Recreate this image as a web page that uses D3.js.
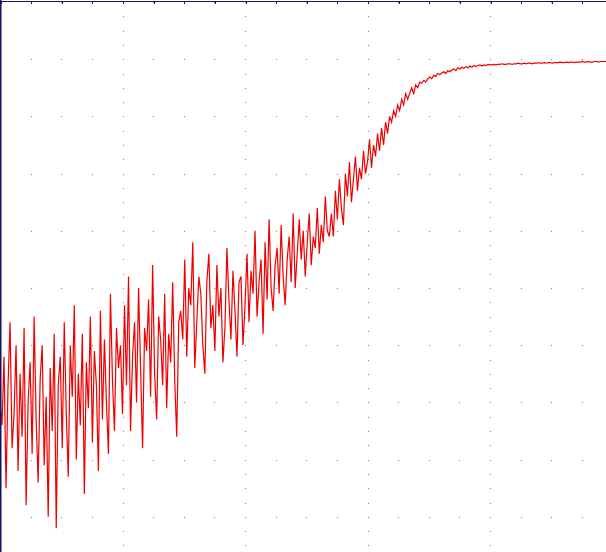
<!DOCTYPE html>
<html>
<head>
<meta charset="utf-8">
<script src="https://cdn.jsdelivr.net/npm/d3@7"></script>
<style>
    html, body { margin: 0; padding: 0; background: #ffffff; overflow: hidden; }
</style>
</head>
<body>
<div id="chart"></div>
<script>
// trace samples, 61 samples per horizontal division
const samplesPerDivision = 61;

// noisy low part
const traceStart = [30, 26, 38, 15, 33, 44, 22, 28, 40, 18, 35, 24, 43, 12, 30, 37, 21, 45, 27, 16, 34, 40, 19, 31, 10, 36, 25, 42, 8, 33,
    38, 22, 44, 28, 17, 40, 31, 47, 20, 35, 26, 42, 14, 37, 29, 45, 23, 39, 33, 18, 46, 27, 41, 30, 21, 49, 34, 25, 43, 36,
    40, 28, 47, 33, 52, 25, 38, 44, 30, 50, 36, 22, 43, 39, 48, 31, 54, 35, 27, 45, 41, 33, 49, 29, 42, 37, 51, 34, 24, 44];
// slow climb
const traceMiddle = [46, 41, 55, 38, 50, 47, 58, 36, 44, 52, 49, 40, 35, 51, 56, 43, 47, 39, 54, 45, 50, 37, 43, 57, 48, 41, 53, 46, 38, 51,
    52, 40, 47, 56, 44, 53, 49, 60, 45, 51, 55, 42, 58, 48, 62, 50, 46, 54, 57, 49, 61, 52, 47, 55, 59, 51, 63, 50, 56, 62,
    55, 60, 52, 58, 63, 54, 59, 57, 64, 56, 61, 58, 66, 60, 59];
// steep rise
const traceRise = [63, 59, 67, 62, 69, 64, 61, 70, 66, 72, 65, 69, 73, 67, 71,
    69, 74, 70, 72, 76, 71, 75, 73, 77, 74, 78, 75, 79, 77, 80,
    79, 81, 80, 82, 81, 83, 82, 84, 83, 84, 85, 84, 85.5, 85, 86,
    85.8, 86.3, 86.0, 86.6, 86.9, 86.6, 87.2, 87.0, 87.5, 87.3, 87.6, 87.8, 87.5, 88.0, 87.8];
// settled plateau
const tracePlateau = [88.1, 88.3, 88.0, 88.5, 88.3, 88.6, 88.4, 88.7, 88.5, 88.8, 88.6, 88.9, 88.7, 88.9, 89.0, 88.8, 89.0, 88.9, 89.1, 89.0,
    89.0, 89.1, 89.0, 89.1, 89.1, 89.2, 89.1, 89.1, 89.2, 89.2, 89.1, 89.2, 89.2, 89.3, 89.2, 89.2, 89.3, 89.2, 89.3, 89.3,
    89.2, 89.3, 89.3, 89.4, 89.3, 89.3, 89.4, 89.3, 89.4, 89.4, 89.3, 89.4, 89.4, 89.4, 89.5, 89.4, 89.4, 89.5, 89.4, 89.5,
    89.5, 89.4, 89.5, 89.5, 89.5, 89.6, 89.5, 89.5, 89.6, 89.5, 89.5, 89.6, 89.6, 89.5, 89.6, 89.6, 89.6, 89.6, 89.6];

const xDivisions = [0, 1, 2, 3, 4, 5];
const yDivisions = [0, 10, 20, 30, 40, 50, 60, 70, 80, 90, 100];

class TraceVis {

    constructor(_config, _data) {
        this.config = {
            parentElement: _config.parentElement,
            width: 606,
            height: 552,
            divWidth: 122.5,
            plotBottom: 574,
            plotTop: 2,
            minorSteps: 4,
        }
        this.data = _data;
        this.initVis();
    }

    initVis() {
        let vis = this;
        const c = vis.config;

        vis.svg = d3.select(c.parentElement).append('svg')
            .attr('width', c.width)
            .attr('height', c.height)
            .style('display', 'block');

        vis.x = d3.scaleLinear()
            .domain([0, 5])
            .range([0, 5 * c.divWidth]);

        vis.y = d3.scaleLinear()
            .domain([0, 100])
            .range([c.plotBottom, c.plotTop]);

        vis.drawGrid();
        vis.drawTrace();
        vis.drawFrame();
    }

    drawGrid() {
        let vis = this;
        const xMinor = d3.range(0, 5.001, 1 / vis.config.minorSteps);
        const yMinor = d3.range(0, 100.001, 10 / vis.config.minorSteps);

        // dotted rows: one dot at every minor x position
        const rowDots = [];
        yDivisions.forEach(v => xMinor.forEach(u => rowDots.push([u, v])));
        // dotted columns: one dot at every minor y position
        const colDots = [];
        xDivisions.forEach(u => yMinor.forEach(v => colDots.push([u, v])));

        vis.svg.append('g')
            .selectAll('rect')
            .data(rowDots.concat(colDots))
            .join('rect')
            .attr('x', d => Math.round(vis.x(d[0])))
            .attr('y', d => Math.round(vis.y(d[1])))
            .attr('width', 1)
            .attr('height', 1)
            .attr('fill', '#7a7a7a');
    }

    drawTrace() {
        let vis = this;
        const line = d3.line()
            .x((d, i) => vis.x(i / samplesPerDivision))
            .y(d => vis.y(d));

        vis.svg.append('path')
            .datum(vis.data)
            .attr('d', line)
            .attr('fill', 'none')
            .attr('stroke', '#ee0000')
            .attr('stroke-width', 1.2)
            .attr('stroke-linejoin', 'miter');
    }

    drawFrame() {
        let vis = this;
        const xMinor = d3.range(0, 5.001, 1 / vis.config.minorSteps);

        // top edge with small ticks pointing down
        const topAxis = d3.axisBottom(vis.x)
            .tickValues(xMinor)
            .tickSize(3)
            .tickSizeOuter(0)
            .tickFormat('');

        const g = vis.svg.append('g')
            .attr('transform', 'translate(0.5,1)')
            .call(topAxis);
        g.selectAll('path, line')
            .attr('stroke', '#14145e')
            .attr('stroke-width', 1.5)
            .attr('shape-rendering', 'crispEdges');
        g.selectAll('.tick line').attr('stroke-width', 1);

        // left edge
        vis.svg.append('line')
            .attr('x1', 0.75).attr('x2', 0.75)
            .attr('y1', 0).attr('y2', vis.config.height)
            .attr('stroke', '#14145e')
            .attr('stroke-width', 1.5);
    }
}

const trace = [].concat(traceStart, traceMiddle, traceRise, tracePlateau);
new TraceVis({ parentElement: '#chart' }, trace);
</script>
</body>
</html>
